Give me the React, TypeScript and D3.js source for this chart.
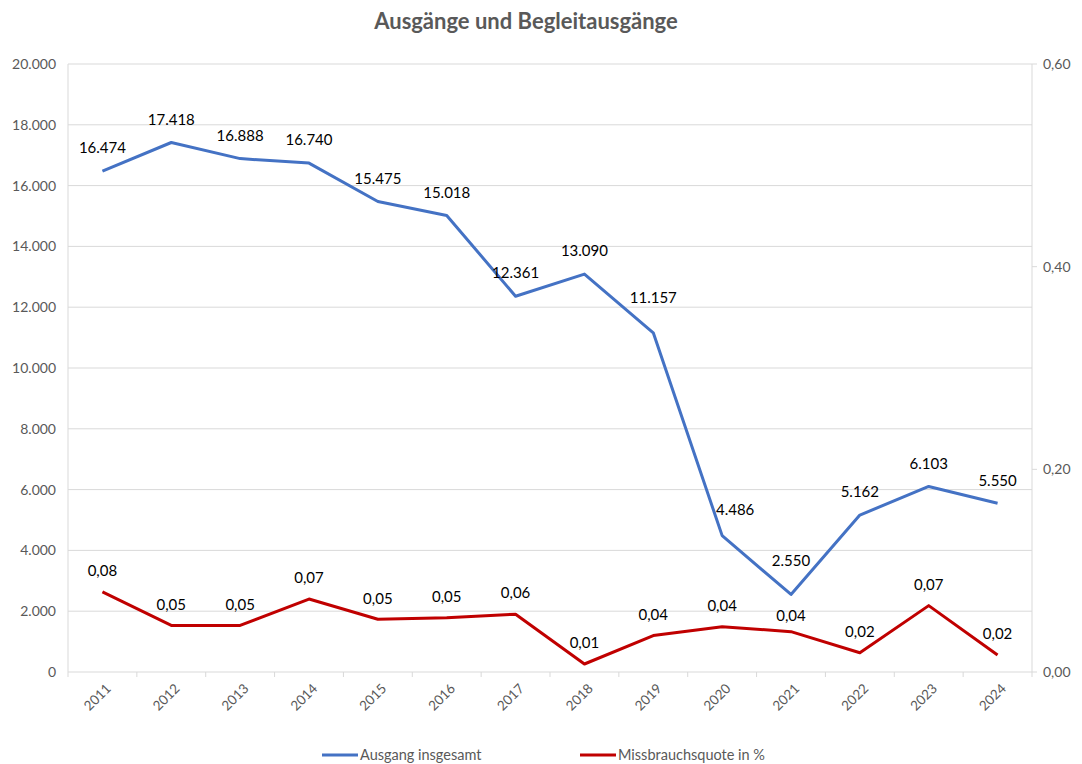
import React from "react";
import * as d3 from "d3";

const years = ["2011","2012","2013","2014","2015","2016","2017","2018","2019","2020","2021","2022","2023","2024"];
const ausgang = [16474,17418,16888,16740,15475,15018,12361,13090,11157,4486,2550,5162,6103,5550];
const quote = [0.079,0.046,0.046,0.072,0.052,0.0536,0.057,0.0079,0.036,0.0447,0.0398,0.019,0.0655,0.0168];
const leftTicks = [0,2000,4000,6000,8000,10000,12000,14000,16000,18000,20000];
const rightTicks = [0,0.2,0.4,0.6];

const W = 1082, H = 764;
const L = 68, R = 1032, T = 64, B = 672;
const font = "Lato, 'Open Sans', sans-serif";

// label nudges (style only)
const blueNudge: Record<string, [number, number]> = { "2019": [0, -12], "2020": [13, -3], "2021": [0, -11] };
const redNudge: Record<string, [number, number]> = { "2021": [0, 5] };

export default function App() {
  const x = d3.scaleBand<string>().domain(years).range([L, R]);
  const yL = d3.scaleLinear().domain([0, 20000]).range([B, T]);
  const yR = d3.scaleLinear().domain([0, 0.6]).range([B, T]);
  const cx = (d: string) => (x(d) as number) + x.bandwidth() / 2;
  const fmtL = (v: number) => d3.format(",")(v).replace(/,/g, ".");
  const fmtR = (v: number) => v.toFixed(2).replace(".", ",");
  const lineL = d3.line<number>().x((_, i) => cx(years[i])).y(d => yL(d));
  const lineR = d3.line<number>().x((_, i) => cx(years[i])).y(d => yR(d));
  const grey = "#595959";
  return (
    <svg width={W} height={H} style={{ position: "absolute", left: 0, top: 0, background: "#fff" }} fontFamily={font}>
      <rect x={0} y={0} width={W} height={H} fill="#fff" />
      <text x={526} y={29} textAnchor="middle" fontSize={22} fontWeight="bold" fill={grey}>Ausgänge und Begleitausgänge</text>
      {leftTicks.map(t => (
        <g key={t}>
          <line x1={L} x2={R} y1={yL(t)} y2={yL(t)} stroke="#d9d9d9" strokeWidth={1} />
          <text x={56} y={yL(t)} dy="0.35em" textAnchor="end" fontSize={14} fill={grey}>{fmtL(t)}</text>
        </g>
      ))}
      <line x1={L} x2={L} y1={T} y2={B} stroke="#d9d9d9" />
      <line x1={R} x2={R} y1={T} y2={B} stroke="#d9d9d9" />
      {rightTicks.map(t => (
        <g key={t}>
          <line x1={R} x2={R + 5} y1={yR(t)} y2={yR(t)} stroke="#d9d9d9" />
          <text x={1043} y={yR(t)} dy="0.35em" textAnchor="start" fontSize={14} fill={grey}>{fmtR(t)}</text>
        </g>
      ))}
      {years.map(y => (
        <line key={"tk" + y} x1={x(y) as number} x2={x(y) as number} y1={B} y2={B + 5} stroke="#d9d9d9" />
      ))}
      <line x1={R} x2={R} y1={B} y2={B + 5} stroke="#d9d9d9" />
      {years.map(y => (
        <text key={"xl" + y} transform={`translate(${cx(y) + 6},${B + 14}) rotate(-45)`} textAnchor="end" dy="0.35em" fontSize={13.5} fill={grey}>{y}</text>
      ))}
      <path d={lineL(ausgang) as string} fill="none" stroke="#4472C4" strokeWidth={3} strokeLinejoin="round" />
      <path d={lineR(quote) as string} fill="none" stroke="#C00000" strokeWidth={3} strokeLinejoin="round" />
      {ausgang.map((v, i) => {
        const n = blueNudge[years[i]] || [0, 0];
        return <text key={"la" + i} x={cx(years[i]) + n[0]} y={yL(v) - 23 + n[1]} dy="0.35em" textAnchor="middle" fontSize={15} fill="#000">{fmtL(v)}</text>;
      })}
      {quote.map((v, i) => {
        const n = redNudge[years[i]] || [0, 0];
        return <text key={"lq" + i} x={cx(years[i]) + n[0]} y={yR(v) - 21 + n[1]} dy="0.35em" textAnchor="middle" fontSize={15} fill="#000">{fmtR(v)}</text>;
      })}
      <line x1={322} x2={358} y1={755} y2={755} stroke="#4472C4" strokeWidth={3} />
      <text x={360} y={755} dy="0.35em" fontSize={14.5} fill={grey}>Ausgang insgesamt</text>
      <line x1={580} x2={616} y1={755} y2={755} stroke="#C00000" strokeWidth={3} />
      <text x={618} y={755} dy="0.35em" fontSize={14.5} fill={grey}>Missbrauchsquote in %</text>
    </svg>
  );
}
